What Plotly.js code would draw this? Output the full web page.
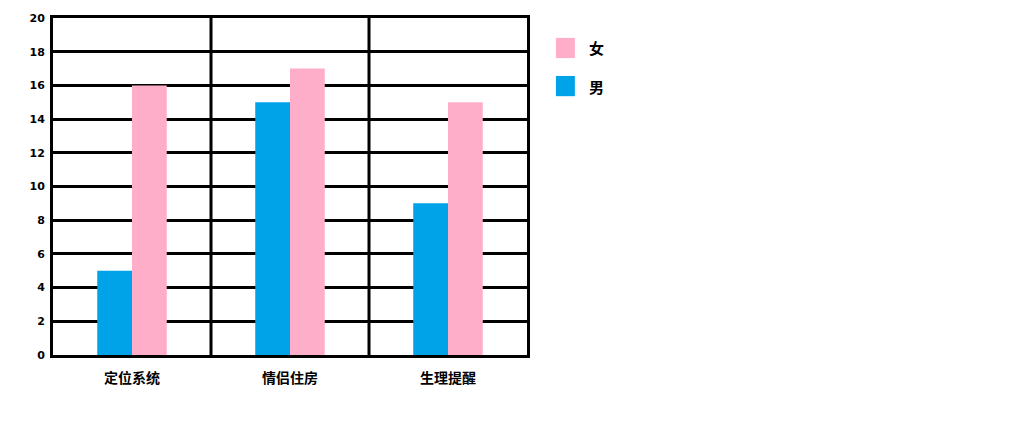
<!DOCTYPE html>
<html>
<head>
<meta charset="utf-8">
<script src="https://cdn.plot.ly/plotly-3.0.1.min.js"></script>
<style>
  html, body { margin: 0; padding: 0; background: #ffffff; }
  #chart { width: 1024px; height: 441px; }
</style>
</head>
<body>
<div id="chart"></div>
<script>
// Feature preference by gender
const categories = ['定位系统', '情侣住房', '生理提醒'];
const seriesNames = ['男', '女'];
const maleValues = [5, 15, 9];
const femaleValues = [16, 17, 15];
const seriesColors = ['#00A2E8', '#FFAEC9'];
const yTicks = [0, 2, 4, 6, 8, 10, 12, 14, 16, 18, 20];

const traces = [
  { type: 'bar', name: seriesNames[0], x: categories, y: maleValues,
    marker: { color: seriesColors[0] }, hoverinfo: 'x+y+name' },
  { type: 'bar', name: seriesNames[1], x: categories, y: femaleValues,
    marker: { color: seriesColors[1] }, hoverinfo: 'x+y+name' }
];

// vertical separators between category groups
const shapes = [];
for (let i = 0; i < categories.length - 1; i++) {
  shapes.push({ type: 'line', xref: 'x', yref: 'paper', x0: i + 0.5, x1: i + 0.5,
    y0: 0, y1: 1, line: { color: '#000', width: 3 }, layer: 'below' });
}

// custom legend: large square swatches, 女 listed first
const annotations = [];
const legendOrder = [1, 0];
legendOrder.forEach((s, k) => {
  const yc = 0.911 - k * 0.113;
  shapes.push({ type: 'rect', xref: 'paper', yref: 'paper',
    x0: 1.061, x1: 1.101, y0: yc - 0.03, y1: yc + 0.03,
    fillcolor: seriesColors[s], line: { width: 0 } });
  annotations.push({ xref: 'paper', yref: 'paper', x: 1.127, y: yc,
    xanchor: 'left', yanchor: 'middle', showarrow: false, text: seriesNames[s],
    font: { family: 'Noto Sans CJK SC', size: 15, color: '#000', weight: 'bold' } });
});

const layout = {
  width: 1024, height: 441,
  margin: { l: 53, r: 497, t: 18, b: 86 },
  paper_bgcolor: '#ffffff', plot_bgcolor: '#ffffff',
  barmode: 'group', bargap: 0.56, bargroupgap: 0,
  showlegend: false,
  xaxis: {
    type: 'category', range: [-0.5, 2.5],
    showgrid: false, zeroline: false,
    showline: true, linecolor: '#000', linewidth: 3, mirror: true,
    ticks: '', ticklabelstandoff: 8,
    tickfont: { family: 'Noto Sans CJK SC', size: 14, color: '#000', weight: 'bold' }
  },
  yaxis: {
    range: [0, 20], tickvals: yTicks, ticktext: yTicks.map(String),
    showgrid: true, gridcolor: '#000', gridwidth: 3,
    zeroline: false,
    showline: true, linecolor: '#000', linewidth: 3, mirror: true,
    ticks: '', ticklabelstandoff: 3,
    tickfont: { family: 'DejaVu Sans', size: 11, color: '#000', weight: 'bold' }
  },
  shapes: shapes,
  annotations: annotations
};

Plotly.newPlot('chart', traces, layout, { displayModeBar: false, staticPlot: true });
</script>
</body>
</html>
